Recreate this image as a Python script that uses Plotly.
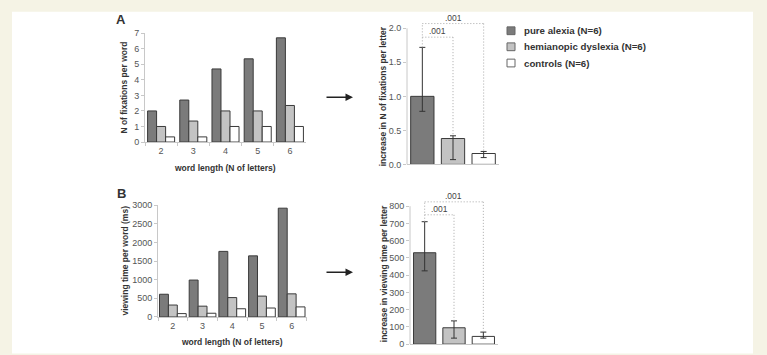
import plotly.graph_objects as go

W, H = 767, 355

# ---------------- data ----------------
groups = ["pure alexia (N=6)", "hemianopic dyslexia (N=6)", "controls (N=6)"]
word_lengths = ["2", "3", "4", "5", "6"]

fix_pure = [2.0, 2.7, 4.7, 5.35, 6.7]
fix_hemi = [1.0, 1.35, 2.0, 2.0, 2.35]
fix_ctrl = [0.33, 0.33, 1.0, 1.0, 1.0]

time_pure = [610, 990, 1760, 1640, 2920]
time_hemi = [320, 290, 520, 560, 620]
time_ctrl = [90, 100, 220, 240, 270]

fix_slope = [1.0, 0.38, 0.16]
fix_slope_hi = [1.72, 0.42, 0.19]
fix_slope_lo = [0.78, 0.07, 0.10]

time_slope = [530, 95, 45]
time_slope_hi = [710, 135, 70]
time_slope_lo = [425, 35, 35]

p_labels = [".001", ".001"]
bracket_fix = [1.87, 2.07]
bracket_time = [750, 825]

# ---------------- style ----------------
FONT = "Liberation Sans, Arial, sans-serif"
fills = ["#7b7b7b", "#c3c3c3", "#ffffff"]
edge = "#3a3a3a"
axis_col = "#c8c8c8"
tick_col = "#555555"
title_col = "#333333"


def fx(x):
    return x / W


def fy(y):
    return 1 - y / H


fig = go.Figure()

# left charts: grouped bars
def add_grouped(series_list, xa, ya, w):
    for i, (vals, name) in enumerate(zip(series_list, groups)):
        fig.add_trace(go.Bar(
            x=word_lengths, y=vals, name=name, xaxis=xa, yaxis=ya,
            width=w, offset=(i - 1.5) * w,
            marker=dict(color=fills[i], line=dict(color=edge, width=1)),
            showlegend=False,
        ))

add_grouped([fix_pure, fix_hemi, fix_ctrl], "x", "y", 0.28)
add_grouped([time_pure, time_hemi, time_ctrl], "x3", "y3", 0.30)

# right charts: slopes with error bars
def add_slope(vals, hi, lo, xa, ya):
    fig.add_trace(go.Bar(
        x=groups, y=vals, xaxis=xa, yaxis=ya, width=0.76,
        marker=dict(color=fills, line=dict(color=edge, width=1)),
        error_y=dict(type="data", symmetric=False,
                     array=[h - v for h, v in zip(hi, vals)],
                     arrayminus=[v - l for v, l in zip(vals, lo)],
                     color="#333333", thickness=1, width=3),
        showlegend=False,
    ))

add_slope(fix_slope, fix_slope_hi, fix_slope_lo, "x2", "y2")
add_slope(time_slope, time_slope_hi, time_slope_lo, "x4", "y4")

tickfont = dict(family=FONT, size=9, color=tick_col)

def xcat(domain, anchor, labels=True):
    return dict(domain=domain, anchor=anchor, type="category",
                showline=True, linecolor=axis_col, linewidth=1,
                ticks="outside" if labels else "", tickson="boundaries",
                ticklen=3, tickcolor=axis_col,
                showticklabels=labels, tickfont=tickfont,
                showgrid=False, zeroline=False, fixedrange=True)

def yax(domain, anchor, rng, tickvals, fmt=None, line=True):
    d = dict(domain=domain, anchor=anchor, range=rng, tickvals=tickvals,
             showline=line, linecolor=axis_col, linewidth=1,
             ticks="outside", ticklen=3, tickcolor=axis_col,
             tickfont=tickfont, showgrid=False, zeroline=False,
             fixedrange=True)
    if fmt:
        d["tickformat"] = fmt
    return d

fix_top = 2.12
time_top = 840

fig.update_layout(
    width=W, height=H,
    margin=dict(l=0, r=0, t=0, b=0),
    paper_bgcolor="#f5f3e5",
    plot_bgcolor="rgba(0,0,0,0)",
    barmode="overlay",
    font=dict(family=FONT),
    xaxis=xcat([fx(145), fx(306)], "y"),
    yaxis=yax([fy(141), fy(29)], "x", [0, 7], list(range(0, 8))),
    xaxis2=xcat([fx(407), fx(499)], "y2", labels=False),
    yaxis2=yax([fy(164), fy(164 - fix_top * 70)], "x2", [0, fix_top],
               [0, 0.5, 1.0, 1.5, 2.0], ".1f", line=False),
    xaxis3=xcat([fx(158), fx(306.5)], "y3"),
    yaxis3=yax([fy(321), fy(206)], "x3", [0, 3000], list(range(0, 3001, 500))),
    xaxis4=xcat([fx(410), fx(498)], "y4", labels=False),
    yaxis4=yax([fy(349), fy(349 - time_top * 0.1775)], "x4", [0, time_top],
               list(range(0, 801, 100)), line=False),
)

shapes = []
# white panel
shapes.append(dict(type="rect", xref="paper", yref="paper",
                   x0=fx(12), x1=fx(753), y0=-0.01, y1=fy(7),
                   fillcolor="white", line=dict(width=0), layer="below"))

# right y-axis lines (stop at top tick)
for xa, ya, top, tmax in (("x2", "y2", fix_top, 2.0), ("x4", "y4", time_top, 800)):
    shapes.append(dict(type="line", xref=xa + " domain", yref=ya + " domain",
                       x0=0, x1=0, y0=0, y1=tmax / top,
                       line=dict(color=axis_col, width=1)))

# significance brackets
dot = dict(color="#a8a8a8", width=1, dash="1px,2px")
for xa, ya, hi, br in (("x2", "y2", fix_slope_hi, bracket_fix),
                       ("x4", "y4", time_slope_hi, bracket_time)):
    inner, outer = br
    segs = [
        (0, hi[0], 0, outer),
        (0, inner, 1, inner),
        (1, inner, 1, hi[1]),
        (0, outer, 2, outer),
        (2, outer, 2, hi[2]),
    ]
    for x0, y0, x1, y1 in segs:
        shapes.append(dict(type="line", xref=xa, yref=ya,
                           x0=x0, y0=y0, x1=x1, y1=y1, line=dot))

# legend squares
leg_rows = [26.5, 43, 59.7]
for i, yc in enumerate(leg_rows):
    shapes.append(dict(type="rect", xref="paper", yref="paper",
                       x0=fx(507), x1=fx(515), y0=fy(yc + 4), y1=fy(yc - 4),
                       fillcolor=fills[i], line=dict(color="#666666", width=1)))

annotations = []
for i, yc in enumerate(leg_rows):
    annotations.append(dict(xref="paper", yref="paper", x=fx(522), y=fy(yc),
                            xanchor="left", yanchor="middle", showarrow=False,
                            text="<b>" + groups[i] + "</b>",
                            font=dict(family=FONT, size=9.7, color=title_col)))

# p-value labels
for xa, ya, br in (("x2", "y2", bracket_fix), ("x4", "y4", bracket_time)):
    for xpos, yv, lab in ((0.5, br[0], p_labels[0]), (1.0, br[1], p_labels[1])):
        annotations.append(dict(xref=xa, yref=ya, x=xpos, y=yv, text=lab,
                                xanchor="center", yanchor="bottom", yshift=-1,
                                showarrow=False,
                                font=dict(family=FONT, size=8.5, color="#444444")))

def title(text, x, y, angle=0, size=8.5):
    annotations.append(dict(xref="paper", yref="paper", x=fx(x), y=fy(y),
                            xanchor="center", yanchor="middle", showarrow=False,
                            text="<b>" + text + "</b>", textangle=angle,
                            font=dict(family=FONT, size=size, color=title_col)))

title("N of fixations per word", 124, 85, -90)
title("word length (N of letters)", 225, 168)
title("increase in N of fixations per letter", 383, 94, -90)
title("viewing time per word (ms)", 125, 263, -90)
title("word length (N of letters)", 232, 347)
title("increase in viewing time per letter", 384, 277, -90)
title("A", 121, 15, size=13)
title("B", 121, 194, size=13)

# arrows
for yv in (95, 275):
    annotations.append(dict(xref="paper", yref="paper", x=fx(353), y=fy(yv),
                            ax=-28, ay=0, axref="pixel", ayref="pixel",
                            text="", showarrow=True, arrowhead=2,
                            arrowsize=1, arrowwidth=1.5, arrowcolor="#222222"))

fig.update_layout(shapes=shapes, annotations=annotations)

fig.write_html("out.html")
